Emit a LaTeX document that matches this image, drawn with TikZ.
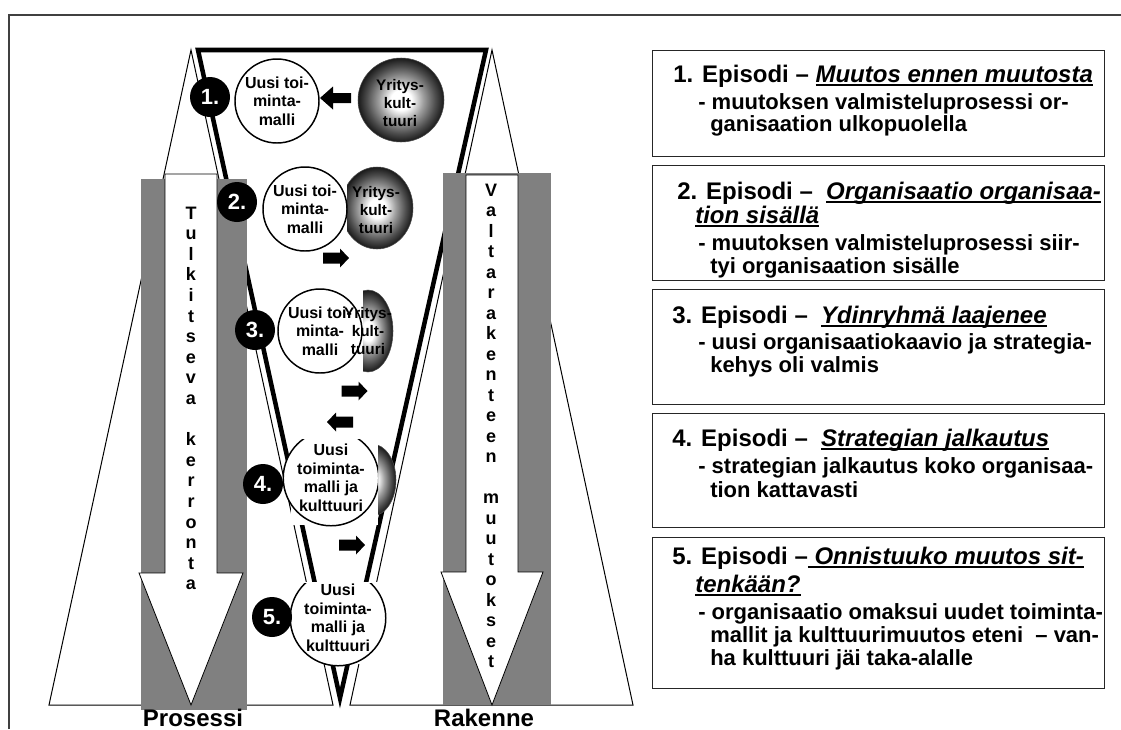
\documentclass[tikz,border=0pt]{standalone}
\usepackage{fontspec}
\setmainfont{Liberation Sans}
\usetikzlibrary{calc}

% radial grey sphere used for the "Yrityskulttuuri" balls
\pgfdeclareradialshading{spheregrad}{\pgfpoint{0bp}{0bp}}{%
  color(0bp)=(white); color(6bp)=(white); color(13bp)=(black!38);
  color(20bp)=(black!70); color(25bp)=(black!90); color(50bp)=(black!90)}

% thick underline for the episode headings
\newcommand\epul[1]{\setbox0=\hbox{#1}\rlap{\rule[-3pt]{\wd0}{1.4pt}}\box0}

\begin{document}
\begin{tikzpicture}[x=0.75pt,y=-0.75pt,
  frameline/.style={draw=black!75, line width=1.5pt},
  bigtri/.style={draw=black, fill=white, line width=0.75pt},
  graybar/.style={fill=black!50},
  whitearrow/.style={draw=black, fill=white, line width=0.6pt},
  funnel/.style={draw=black, line width=3.4pt, line join=miter},
  vletter/.style={anchor=base, inner sep=0pt, font=\fontsize{13.5}{14}\selectfont\bfseries},
  numdot/.style={circle, fill=black, minimum size=30pt, inner sep=0pt, text=white,
    font=\fontsize{16.5}{16.5}\selectfont\bfseries},
  newmodel/.style={circle, draw=black, fill=white, line width=1.1pt, inner sep=0pt,
    align=center, font=\fontsize{12}{13.9}\selectfont\bfseries},
  culttext/.style={align=center, inner sep=0pt, font=\fontsize{11.5}{13.5}\selectfont\bfseries},
  sphere/.style={shading=spheregrad, draw=black!70, line width=0.4pt},
  epbox/.style={draw=black!85, line width=1.1pt, fill=white, anchor=north west, inner sep=0pt},
  eptitle/.style={anchor=base west, inner sep=0pt, font=\fontsize{18}{20}\selectfont\bfseries},
  epbody/.style={anchor=base west, inner sep=0pt, font=\fontsize{16.5}{18}\selectfont\bfseries},
  axislabel/.style={anchor=base, inner sep=0pt, font=\fontsize{18}{20}\selectfont\bfseries},
  pics/bigblk/.style={code={\fill (-15.5,-5) -- (2.5,-5) -- (2.5,-11.5) -- (15.5,0)
      -- (2.5,11.5) -- (2.5,5) -- (-15.5,5) -- cycle;}},
  pics/smallblk/.style={code={\fill (-13,-5.5) -- (4,-5.5) -- (4,-9.5) -- (13,0)
      -- (4,9.5) -- (4,5.5) -- (-13,5.5) -- cycle;}}
]
\useasboundingbox (0,0) rectangle (1121,729);
\fill[white] (0,0) rectangle (1121,729);

% outer frame
\draw[frameline] (9,729) -- (9,15) -- (1121,15);

% the two large triangles
\draw[bigtri] (191,50) -- (333,705) -- (49,705) -- cycle;
\draw[bigtri] (492,50) -- (633,705) -- (350,705) -- cycle;

% the funnel
\draw[funnel] (198,50) -- (486,50) -- (340,698) -- cycle;

% grey bars with the downward arrows
\fill[graybar] (141,179) rectangle (247,710);
\fill[graybar] (443,173) rectangle (551,705);
\draw[whitearrow] (165,174) -- (217,174) -- (217,573) -- (243,573) -- (191,705)
  -- (139,573) -- (165,573) -- cycle;
\draw[whitearrow] (466,175) -- (518,175) -- (518,572) -- (543,572) -- (492,705)
  -- (441,572) -- (466,572) -- cycle;

% vertical lettering
\foreach \ch [count=\i from 0] in {T,u,l,k,i,t,s,e,v,a}
  \node[vletter] (pa\i) at (191,219+20.6*\i) {\ch};
\foreach \ch [count=\i from 11] in {k,e,r,r,o,n,t,a}
  \node[vletter] (pa\i) at (191,219+20.6*\i) {\ch};
\foreach \ch [count=\i from 0] in {V,a,l,t,a,r,a,k,e,n,t,e,e,n}
  \node[vletter] (ra\i) at (491,196+20.5*\i) {\ch};
\foreach \ch [count=\i from 15] in {m,u,u,t,o,k,s,e,t}
  \node[vletter] (ra\i) at (491,196+20.5*\i) {\ch};

\node[axislabel] (prosessi) at (193,726) {Prosessi};
\node[axislabel] (rakenne) at (484,726) {Rakenne};

% row 1
\shadedraw[sphere] (401,100) ellipse [x radius=43, y radius=42];
\pic[rotate=180] at (335.5,98) {bigblk};
\node[newmodel, minimum size=63pt] (m1) at (277,101) {Uusi toi-\\minta-\\malli};
\node[culttext] (c1) at (400,103) {Yritys-\\kult-\\tuuri};

% row 2
\begin{scope}
  \clip (347,150) rectangle (430,260);
  \shadedraw[sphere] (377,208) ellipse [x radius=36, y radius=41];
\end{scope}
\node[newmodel, minimum size=63pt] (m2) at (305,209) {Uusi toi-\\minta-\\malli};
\node[culttext] (c2) at (376,210) {Yritys-\\kult-\\tuuri};
\pic at (336,258) {smallblk};

% row 3
\begin{scope}
  \clip (363,280) rectangle (420,380);
  \shadedraw[sphere] (368,331) ellipse [x radius=25, y radius=41];
\end{scope}
\node[newmodel, minimum size=63pt] (m3) at (320,331) {Uusi toi-\\minta-\\malli};
\node[culttext] (c3) at (368,331) {Yritys-\\kult-\\tuuri};
\pic at (354.5,391) {smallblk};
\pic[rotate=180] at (340,422) {smallblk};

% row 4
\begin{scope}
  \clip (378,430) rectangle (420,530);
  \shadedraw[sphere] (372,480) ellipse [x radius=24, y radius=36];
\end{scope}
\fill[white] (291,439) rectangle (378,525);
\begin{scope}
  \clip (250,439) rectangle (378,530);
  \node[newmodel, minimum size=67.5pt] (m4) at (331,478) {Uusi\\toiminta-\\malli ja\\kulttuuri};
\end{scope}
\pic at (352,545) {smallblk};

% row 5
\fill[white] (291,582) rectangle (386,664);
\begin{scope}
  \clip (250,583) rectangle (400,670);
  \node[newmodel, minimum size=67.5pt] (m5) at (338,618) {Uusi\\toiminta-\\malli ja\\kulttuuri};
\end{scope}

% episode numbers
\node[numdot] (n1) at (210,97) {1.};
\node[numdot] (n2) at (237,202) {2.};
\node[numdot] (n3) at (255,330) {3.};
\node[numdot] (n4) at (263,484) {4.};
\node[numdot] (n5) at (272,617) {5.};

% episode boxes
\node[epbox, minimum width=339pt, minimum height=79.5pt] (box1) at (652,50) {};
\node[epbox, minimum width=339pt, minimum height=86.25pt] (box2) at (652,165) {};
\node[epbox, minimum width=339pt, minimum height=86.25pt] (box3) at (652,289) {};
\node[epbox, minimum width=339pt, minimum height=85.5pt] (box4) at (652,413) {};
\node[epbox, minimum width=339pt, minimum height=113.25pt] (box5) at (652,537) {};

\node[eptitle] (t1) at (673,82) {1. Episodi – \epul{\textit{Muutos ennen muutosta}}};
\node[epbody] (b1a) at (698,109) {- muutoksen valmisteluprosessi or-};
\node[epbody] (b1b) at (710,131) {ganisaation ulkopuolella};

\node[eptitle] (t2) at (677,199) {2. Episodi –\ \ \epul{\textit{Organisaatio organisaa-}}};
\node[eptitle] (t2b) at (695,223) {\epul{\textit{tion sisällä}}};
\node[epbody] (b2a) at (698,250) {- muutoksen valmisteluprosessi siir-};
\node[epbody] (b2b) at (710,273) {tyi organisaation sisälle};

\node[eptitle] (t3) at (672,323) {3. Episodi –\ \ \epul{\textit{Ydinryhmä laajenee}}};
\node[epbody] (b3a) at (698,349) {- uusi organisaatiokaavio ja strategia-};
\node[epbody] (b3b) at (710,372) {kehys oli valmis};

\node[eptitle] (t4) at (672,446) {4. Episodi –\ \ \epul{\textit{Strategian jalkautus}}};
\node[epbody] (b4a) at (698,473) {- strategian jalkautus koko organisaa-};
\node[epbody] (b4b) at (710,497) {tion kattavasti};

\node[eptitle] (t5) at (672,564) {5. Episodi –\epul{\textit{\ Onnistuuko muutos sit-}}};
\node[eptitle] (t5b) at (695,592) {\epul{\textit{tenkään?}}};
\node[epbody] (b5a) at (698,619) {- organisaatio omaksui uudet toiminta-};
\node[epbody] (b5b) at (710,642) {mallit ja kulttuurimuutos eteni\ \ – van-};
\node[epbody] (b5c) at (710,665) {ha kulttuuri jäi taka-alalle};
\end{tikzpicture}
\end{document}
